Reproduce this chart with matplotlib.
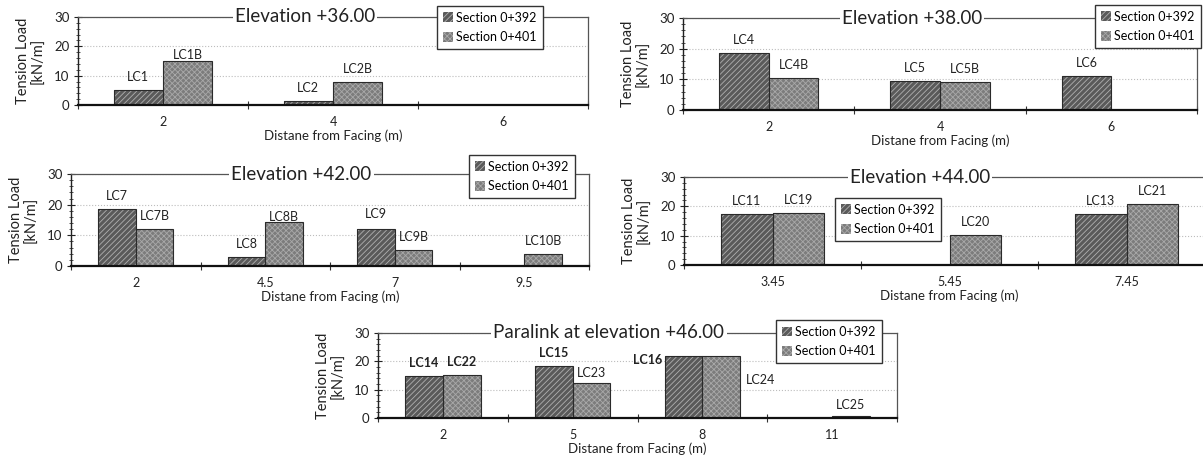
import matplotlib
matplotlib.use("Agg")
import matplotlib.pyplot as plt
from matplotlib.patches import Patch
from matplotlib.ticker import MultipleLocator, FixedLocator
import numpy as np

plt.rcParams['font.family'] = ['Lato', 'DejaVu Sans']
plt.rcParams['hatch.linewidth'] = 0.6

# ---------------- data ----------------
series_names = ["Section 0+392", "Section 0+401"]

p1_title = "Elevation +36.00"
p1_cats = ["2", "4", "6"]
p1_s392 = [5.0, 1.4, 0.0]
p1_s401 = [15.0, 8.0, 0.0]
p1_lab392 = ["LC1", "LC2", ""]
p1_lab401 = ["LC1B", "LC2B", ""]

p2_title = "Elevation +38.00"
p2_cats = ["2", "4", "6"]
p2_s392 = [18.7, 9.4, 11.0]
p2_s401 = [10.5, 9.0, 0.0]
p2_lab392 = ["LC4", "LC5", "LC6"]
p2_lab401 = ["LC4B", "LC5B", ""]

p3_title = "Elevation +42.00"
p3_cats = ["2", "4.5", "7", "9.5"]
p3_s392 = [18.5, 2.8, 12.1, 0.0]
p3_s401 = [12.2, 14.3, 5.1, 3.9]
p3_lab392 = ["LC7", "LC8", "LC9", ""]
p3_lab401 = ["LC7B", "LC8B", "LC9B", "LC10B"]

p4_title = "Elevation +44.00"
p4_cats = ["3.45", "5.45", "7.45"]
p4_s392 = [17.3, 0.0, 17.3]
p4_s401 = [17.8, 10.3, 20.9]
p4_lab392 = ["LC11", "", "LC13"]
p4_lab401 = ["LC19", "LC20", "LC21"]

p5_title = "Paralink at elevation +46.00"
p5_cats = ["2", "5", "8", "11"]
p5_s392 = [14.7, 18.2, 21.9, 0.0]
p5_s401 = [15.3, 12.3, 21.8, 0.8]
p5_lab392 = ["LC14", "LC15", "LC16", ""]
p5_lab401 = ["LC22", "LC23", "LC24", "LC25"]

# ---------------- styling / layout ----------------
W, H = 1203, 465
fig = plt.figure(figsize=(W / 100, H / 100), dpi=100)

# label offsets (pixels) for labels not placed in the default position
label_offsets = {"LC1B": (0, 6), "LC8B": (0, 5), "LC16": (-36, -4),
                 "LC24": (39, -24), "LC23": (0, 10), "LC25": (0, 11), "LC9": (0, 15)}
bold_labels = {"LC14", "LC22", "LC15", "LC16"}

style392 = dict(facecolor="#5a5a5a", hatch="//////", hatchcolor="#b0b0b0")
style401 = dict(facecolor="#7c7c7c", hatch="xxxxxx", hatchcolor="#a9a9a9")


def px_axes(l, r, t, b):
    return fig.add_axes([l / W, 1 - b / H, (r - l) / W, (b - t) / H])


def hatched_bars(ax, x, vals, st, width):
    ax.bar(x, vals, width, color=st["facecolor"], edgecolor=st["hatchcolor"],
           hatch=st["hatch"], linewidth=0, zorder=2)
    ax.bar(x, vals, width, fill=False, edgecolor="#2a2a2a", linewidth=0.8, zorder=2.2)


def panel(rect, title, cats, s392, s401, lab392, lab401, leg_xy):
    ax = px_axes(*rect)
    n = len(cats)
    x = np.arange(n)
    w = 0.29
    hatched_bars(ax, x - w / 2, s392, style392, w)
    hatched_bars(ax, x + w / 2, s401, style401, w)

    for xi, v, lab in list(zip(x - w / 2, s392, lab392)) + list(zip(x + w / 2, s401, lab401)):
        if not lab:
            continue
        dx, dy = label_offsets.get(lab, (0, 13))
        ax.annotate(lab, xy=(xi, v), xytext=(dx * 0.72, dy * 0.72), textcoords="offset points",
                    ha="center", va="center", fontsize=9, color="#222222",
                    fontweight="bold" if lab in bold_labels else "normal", zorder=4)

    ax.set_xlim(-0.5, n - 0.5)
    ax.set_ylim(0, 30)
    ax.set_xticks(x)
    ax.set_xticklabels(cats)
    ax.xaxis.set_minor_locator(FixedLocator(np.arange(n + 1) - 0.5))
    ax.tick_params(axis="x", which="major", length=0, pad=8, labelsize=9, colors="#222222")
    ax.tick_params(axis="x", which="minor", length=6, direction="inout", width=0.8, color="#333333")
    ax.yaxis.set_major_locator(MultipleLocator(10))
    ax.yaxis.set_minor_locator(MultipleLocator(2))
    ax.tick_params(axis="y", which="major", length=6, direction="inout", width=0.8,
                   labelsize=9.5, colors="#222222", pad=3)
    ax.tick_params(axis="y", which="minor", length=3, direction="inout", width=0.6, color="#333333")
    ax.grid(axis="y", which="major", linestyle=":", color="#bdbdbd", linewidth=0.8, zorder=0)
    ax.set_axisbelow(True)

    for s in ("top", "right"):
        ax.spines[s].set_color("#555555")
        ax.spines[s].set_linewidth(0.9)
    ax.spines["left"].set_color("#222222")
    ax.spines["left"].set_linewidth(1.0)
    ax.spines["bottom"].set_color("#111111")
    ax.spines["bottom"].set_linewidth(1.6)

    ax.set_xlabel("Distane from Facing (m)", fontsize=9.5, color="#222222", labelpad=1)
    ax.set_ylabel("Tension Load\n[kN/m]", fontsize=10.5, color="#222222", labelpad=6,
                  linespacing=1.2)

    ax.text(0.445, 1.0, title, transform=ax.transAxes, ha="center", va="center",
            fontsize=13.5, color="#222222", zorder=5,
            bbox=dict(facecolor="white", edgecolor="none", pad=1.5))

    handles = [Patch(facecolor=st["facecolor"], edgecolor=st["hatchcolor"], hatch=st["hatch"],
                     linewidth=0) for st in (style392, style401)]
    leg = ax.legend(handles, series_names, loc="upper left",
                    bbox_to_anchor=(leg_xy[0] / W, 1 - leg_xy[1] / H),
                    bbox_transform=fig.transFigure, fontsize=9, frameon=True,
                    fancybox=False, framealpha=1, edgecolor="#333333",
                    handlelength=0.8, handleheight=0.8, handletextpad=0.3,
                    labelspacing=0.6, borderpad=0.45, borderaxespad=0)
    leg.get_frame().set_linewidth(1.0)
    leg.set_zorder(6)
    return ax


panel((78, 588, 17, 105), p1_title, p1_cats, p1_s392, p1_s401, p1_lab392, p1_lab401, (437, 6))
panel((683, 1197, 18, 110), p2_title, p2_cats, p2_s392, p2_s401, p2_lab392, p2_lab401, (1095, 5))
panel((71, 589, 174, 266), p3_title, p3_cats, p3_s392, p3_s401, p3_lab392, p3_lab401, (469, 155))
panel((684, 1215, 177, 265), p4_title, p4_cats, p4_s392, p4_s401, p4_lab392, p4_lab401, (835, 198))
panel((378, 897, 333, 418), p5_title, p5_cats, p5_s392, p5_s401, p5_lab392, p5_lab401, (776, 320))

fig.savefig("out.png", dpi=100, facecolor="white")
